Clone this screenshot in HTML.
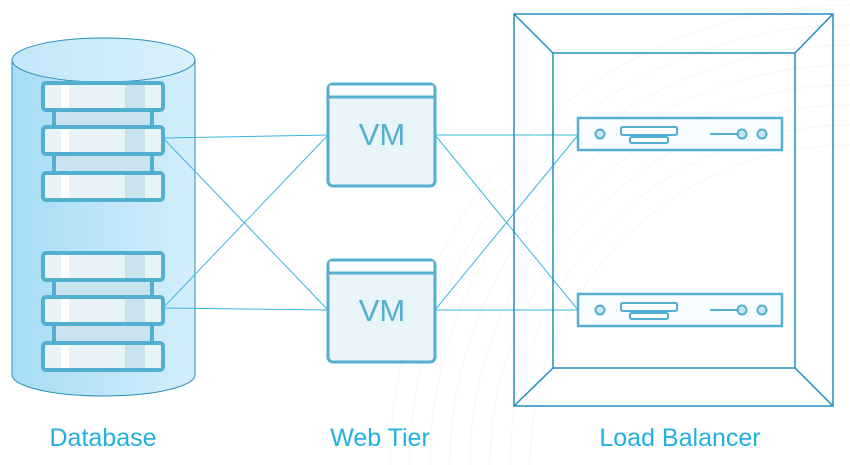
<!DOCTYPE html>
<html><head><meta charset="utf-8"><style>
html,body{margin:0;padding:0;background:#fff;width:850px;height:465px;overflow:hidden;}
svg{display:block;}
text{font-family:"Liberation Sans",sans-serif;}
</style></head><body>
<svg width="850" height="465" viewBox="0 0 850 465" xmlns="http://www.w3.org/2000/svg">
<defs>
<linearGradient id="cyl" x1="0" x2="1" y1="0" y2="0">
<stop offset="0" stop-color="#a6dcf6"/><stop offset="1" stop-color="#d4eefb"/>
</linearGradient>
<linearGradient id="top" x1="0" x2="1"><stop offset="0" stop-color="#c3e7f9"/><stop offset="1" stop-color="#d9f0fc"/></linearGradient>
<g id="unit">
<rect x="0" y="0" width="120" height="27" rx="3" fill="#e8f3f8" stroke="#52afd0" stroke-width="4"/>
<rect x="18" y="2" width="8" height="23" fill="#fff"/>
<rect x="82" y="2" width="20" height="23" fill="#c8e3ee"/>
</g>
<g id="stack">
<rect x="11" y="27" width="98" height="17" fill="#c8e3ee" stroke="#52afd0" stroke-width="4"/>
<rect x="11" y="71" width="98" height="19" fill="#c8e3ee" stroke="#52afd0" stroke-width="4"/>
<use href="#unit" x="0" y="0"/><use href="#unit" x="0" y="44"/><use href="#unit" x="0" y="90"/>
</g>
<g id="vm">
<rect x="0" y="0" width="107" height="102" rx="5" fill="#e8f3fa" stroke="#52afd0" stroke-width="3"/>
<rect x="1.5" y="1.5" width="104" height="11" fill="#fff"/>
<line x1="0" y1="13" x2="107" y2="13" stroke="#52afd0" stroke-width="3"/>
<text x="54" y="61" font-size="31" fill="#52afd0" text-anchor="middle">VM</text>
</g>
<g id="srv">
<rect x="0" y="0" width="204" height="32" fill="#fafdff" stroke="#52afd0" stroke-width="2.5"/>
<circle cx="22" cy="16" r="4.5" fill="#c6e6f4" stroke="#52afd0" stroke-width="2"/>
<rect x="43" y="9" width="56" height="8" rx="1.5" fill="#fff" stroke="#52afd0" stroke-width="2"/>
<rect x="52" y="19" width="38" height="6" rx="1.5" fill="#fff" stroke="#52afd0" stroke-width="2"/>
<line x1="132" y1="16" x2="160" y2="16" stroke="#52afd0" stroke-width="2"/>
<circle cx="164" cy="16" r="4.5" fill="#c6e6f4" stroke="#52afd0" stroke-width="2"/>
<circle cx="184" cy="16" r="4.5" fill="#c6e6f4" stroke="#52afd0" stroke-width="2"/>
</g>
</defs>
<g fill="none" stroke="#f6f6f6" stroke-width="1">
<circle cx="850" cy="465" r="320"/><circle cx="850" cy="465" r="340"/><circle cx="850" cy="465" r="360"/><circle cx="850" cy="465" r="380"/><circle cx="850" cy="465" r="400"/><circle cx="850" cy="465" r="420"/><circle cx="850" cy="465" r="440"/><circle cx="850" cy="465" r="460"/>
</g>
<path d="M12 60 L12 375 A91.5 21 0 0 0 195 375 L195 60 Z" fill="url(#cyl)" stroke="#2a90b8" stroke-width="1"/>
<ellipse cx="103.5" cy="60" rx="91.5" ry="22" fill="url(#top)" stroke="#2a90b8" stroke-width="1"/>
<use href="#stack" x="43" y="83"/>
<use href="#stack" x="43" y="253"/>
<g stroke="#3cb6e0" stroke-width="1" fill="none">
<line x1="163" y1="138" x2="328" y2="135"/>
<line x1="163" y1="138" x2="328" y2="310"/>
<line x1="163" y1="308" x2="328" y2="135"/>
<line x1="163" y1="308" x2="328" y2="310"/>
<line x1="435" y1="135" x2="578" y2="135"/>
<line x1="435" y1="135" x2="578" y2="310"/>
<line x1="435" y1="310" x2="578" y2="135"/>
<line x1="435" y1="310" x2="578" y2="310"/>
</g>
<use href="#vm" x="328" y="84"/>
<use href="#vm" x="328" y="260"/>
<g fill="none" stroke="#1f8fbf" stroke-width="1.5">
<rect x="514" y="14" width="319" height="392"/>
<rect x="553" y="53" width="242" height="315"/>
<line x1="514" y1="14" x2="553" y2="53"/><line x1="833" y1="14" x2="795" y2="53"/>
<line x1="514" y1="406" x2="553" y2="368"/><line x1="833" y1="406" x2="795" y2="368"/>
</g>
<use href="#srv" x="578" y="118"/>
<use href="#srv" x="578" y="294"/>
<g font-size="25" fill="#22b0e2" text-anchor="middle">
<text x="103" y="446">Database</text>
<text x="380" y="446">Web Tier</text>
<text x="680" y="446">Load Balancer</text>
</g>
</svg>
</body></html>
